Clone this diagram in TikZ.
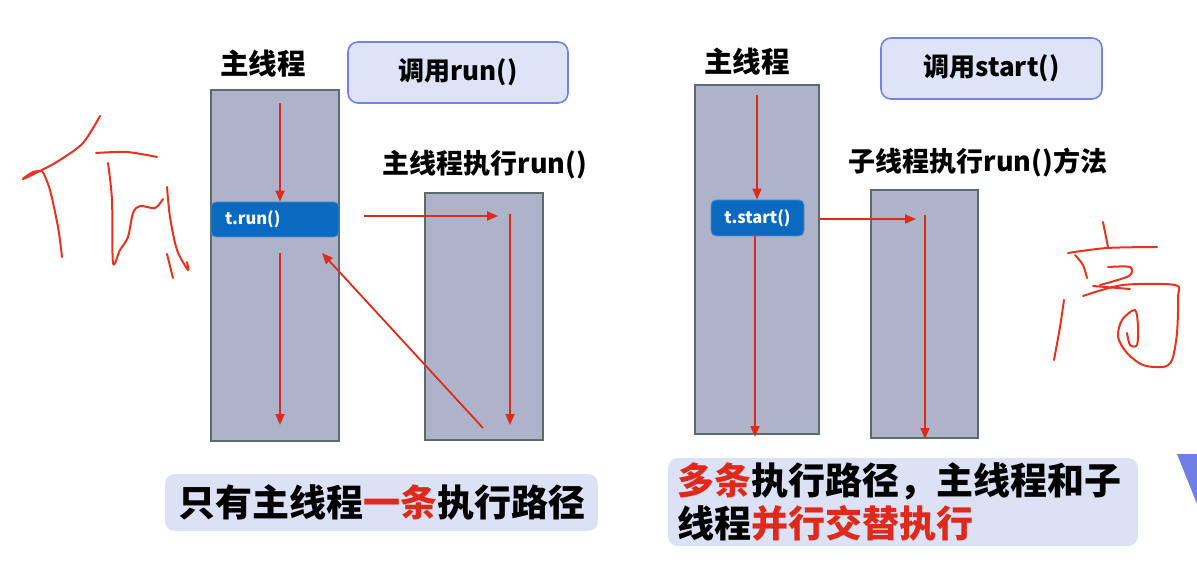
\documentclass[tikz,border=0pt]{standalone}
\usepackage{fontspec}
\setmainfont{Noto Sans CJK SC}
\usetikzlibrary{arrows.meta,positioning}
\definecolor{lanefill}{HTML}{AEB3C9}
\definecolor{laneedge}{HTML}{5B6B6C}
\definecolor{callfill}{HTML}{DFE3F8}
\definecolor{calledge}{HTML}{7185E0}
\definecolor{notefill}{HTML}{DDE1F5}
\definecolor{codefill}{HTML}{0B69BF}
\definecolor{codeedge}{HTML}{4A90D0}
\definecolor{flow}{HTML}{DD2A1B}
\definecolor{ink}{HTML}{E8321E}
\definecolor{corner}{HTML}{6F7FE6}

\begin{document}
\begin{tikzpicture}[
  x=1pt,y=-1pt,
  lane/.style={draw=laneedge,fill=lanefill,line width=1.6pt,inner sep=0pt},
  call/.style={draw=calledge,fill=callfill,line width=1.6pt,rounded corners=10pt,
    inner sep=0pt,font=\fontsize{26}{30}\selectfont\bfseries},
  code/.style={draw=codeedge,fill=codefill,line width=0.8pt,rounded corners=5pt,
    inner sep=0pt,text=white,font=\fontsize{16.5}{18}\selectfont\bfseries},
  head/.style={font=\fontsize{27}{30}\selectfont\bfseries},
  note/.style={fill=notefill,rounded corners=10pt,inner sep=0pt,
    font=\fontsize{37}{43}\selectfont\bfseries,align=left},
  arr/.style={draw=flow,line width=1.8pt,-{Triangle[length=11pt,width=9pt]}},
  hand/.style={draw=ink,line width=2pt,line cap=round,line join=round},
]
\useasboundingbox (0,0) rectangle (1197,569);

% left: run()
\node[head,font=\fontsize{28.5}{30}\selectfont\bfseries] (mainA) at (263,64) {主线程};
\node[call,minimum width=220pt,minimum height=61pt] (callA) at (458,72.5) {调用run()};
\node[lane,minimum width=128pt,minimum height=351pt] (laneA) at (275,265.5) {};
\node[head] (subA) at (485,165) {主线程执行run()};
\node[lane,minimum width=118pt,minimum height=247pt] (runA) at (484,316.5) {};
\node[code,minimum width=128pt,minimum height=35pt,text width=100pt,align=left] (trun) at (275,219.5) {t.run()};
\node[note,minimum width=433pt,minimum height=57pt] (noteA) at (381.5,502.5)
  {只有主线程\textcolor{flow}{一条}执行路径};

\coordinate (a0) at (280,103);
\coordinate (a1) at (280,253);
\coordinate (a2) at (280,425);
\coordinate (a3) at (364,216);
\coordinate (a4) at (498,216);
\coordinate (a5) at (510,214);
\coordinate (a6) at (510,425);
\coordinate (a7) at (483,428);
\coordinate (a8) at (322,253);
\draw[arr] (a0) -- (a0 |- trun.north);
\draw[arr] (a1) -- (a2);
\draw[arr] (a3) -- (a4);
\draw[arr] (a5) -- (a6);
\draw[arr] (a7) -- (a8);

% right: start()
\node[head,font=\fontsize{28.5}{30}\selectfont\bfseries] (mainB) at (747,62) {主线程};
\node[call,minimum width=221pt,minimum height=61pt] (callB) at (991.5,68.5) {调用start()};
\node[lane,minimum width=124pt,minimum height=349pt] (laneB) at (757,259.5) {};
\node[head] (subB) at (978,162) {子线程执行run()方法};
\node[lane,minimum width=107pt,minimum height=248pt] (runB) at (924.5,314) {};
\node[code,minimum width=93pt,minimum height=36pt] (tstart) at (757.5,218) {t.start()};
\node[note,minimum width=470pt,minimum height=88pt,text width=452pt] (noteB) at (903,502)
  {\textcolor{flow}{多条}执行路径，主线程和子\\线程\textcolor{flow}{并行交替执行}};

\coordinate (b0) at (757,95);
\coordinate (b1) at (755,437);
\coordinate (b2) at (819,219);
\coordinate (b3) at (916,219);
\coordinate (b4) at (925,215);
\coordinate (b5) at (925,439);
\draw[arr] (b0) -- (b0 |- tstart.north);
\draw[arr] (b1 |- tstart.south) -- (b1);
\draw[arr] (b2) -- (b3);
\draw[arr] (b4) -- (b5);

% corner mark
\fill[corner] (1177,454) -- (1197,454) -- (1197,504) -- cycle;

% hand strokes, left
\draw[hand] plot[smooth] coordinates {(100,116) (83,143) (60,160) (42,170) (23,179) (33,172) (42,171)};
\draw[hand] plot[smooth] coordinates {(43,172) (50,190) (58,227) (62,257)};
\draw[hand] plot[smooth] coordinates {(96,153) (127,152) (157,157)};
\draw[hand] plot[smooth] coordinates {(108,163) (112,200) (113,263) (120,250) (128,237) (133,213) (140,206) (155,208) (163,199)};
\draw[hand] plot[smooth] coordinates {(167,187) (170,217) (177,250) (188,270) (187,262)};
\draw[hand] plot[smooth] coordinates {(167,254) (173,278)};

% hand strokes, right
\draw[hand] plot[smooth] coordinates {(1103,222) (1108,247)};
\draw[hand] plot[smooth] coordinates {(1068,253) (1107,248) (1157,247)};
\draw[hand] plot[smooth] coordinates {(1075,255) (1083,265) (1087,278)};
\draw[hand] plot[smooth] coordinates {(1108,267) (1130,267) (1129,276) (1100,285)};
\draw[hand] plot[smooth] coordinates {(1093,286) (1130,289)};
\draw[hand] plot[smooth] coordinates {(1083,296) (1123,285) (1175,285) (1178,297) (1177,333) (1172,360) (1163,367) (1143,365) (1127,353) (1118,337) (1122,320) (1135,310) (1138,327) (1137,345) (1130,345) (1127,333)};
\draw[hand] plot[smooth] coordinates {(1064,300) (1060,327) (1054,360)};
\end{tikzpicture}
\end{document}
